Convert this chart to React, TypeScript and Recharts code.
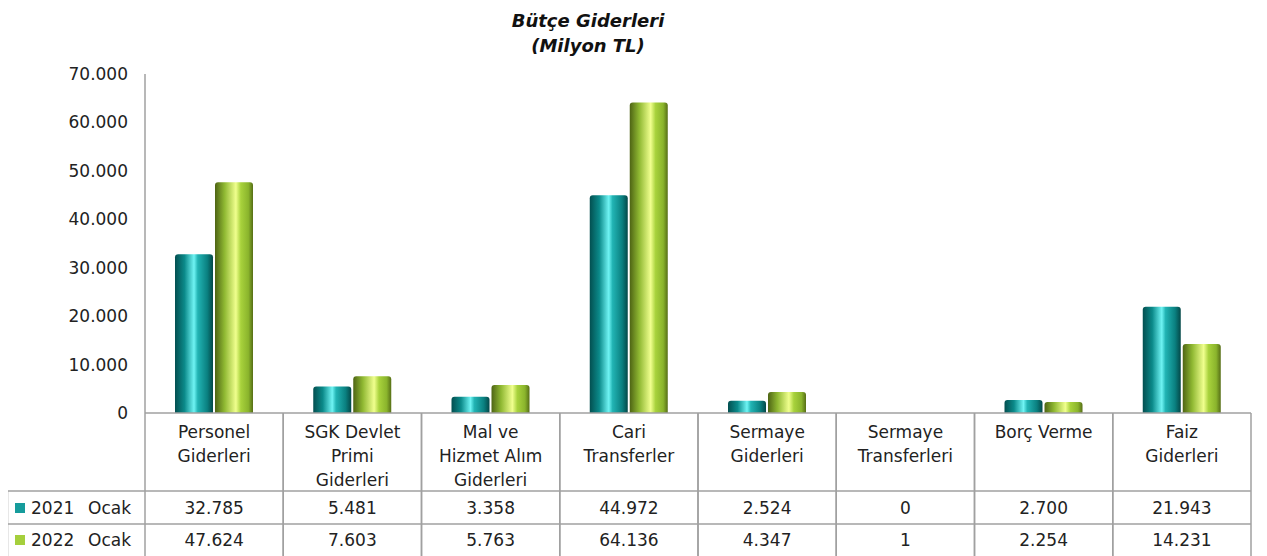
import { BarChart, Bar, XAxis, YAxis } from 'recharts';

const categories = [
  'Personel\nGiderleri',
  'SGK Devlet\nPrimi\nGiderleri',
  'Mal ve\nHizmet Alım\nGiderleri',
  'Cari\nTransferler',
  'Sermaye\nGiderleri',
  'Sermaye\nTransferleri',
  'Borç Verme',
  'Faiz\nGiderleri',
];
const ocak2021 = [32785, 5481, 3358, 44972, 2524, 0, 2700, 21943];
const ocak2022 = [47624, 7603, 5763, 64136, 4347, 1, 2254, 14231];
const yTicks = [0, 10000, 20000, 30000, 40000, 50000, 60000, 70000];
const seriesYears = ['2021', '2022'];
const seriesMonth = 'Ocak';

const W = 1267;
const H = 556;
const Y_AXIS_W = 145;
const RIGHT = 16;
const X_AXIS_H = 143;
const BW = (W - Y_AXIS_W - RIGHT) / categories.length;
const LINE = '#a0a0a0';
const TEXT = '#222';
const FONT = '"DejaVu Sans", sans-serif';
const SWATCH = ['#169c9c', '#a5cf3c'];

const fmt = (v: number) => String(v).replace(/\B(?=(\d{3})+(?!\d))/g, '.');

const data = categories.map((name, i) => ({
  name,
  y2021: ocak2021[i],
  y2022: ocak2022[i],
}));

function TableTick(props: any) {
  const { x, y, payload } = props;
  const i = categories.indexOf(payload.value);
  const left = x - BW / 2;
  const right = x + BW / 2;
  const lines = String(payload.value).split('\n');
  const r1 = y + 78;
  const r2 = y + 111;
  const bot = y + 145;
  return (
    <g fontFamily={FONT} fontSize={17} fill={TEXT}>
      <line x1={left} y1={y} x2={left} y2={bot} stroke={LINE} strokeWidth={1.5} />
      <line x1={right} y1={y} x2={right} y2={bot} stroke={LINE} strokeWidth={1.5} />
      <line x1={left} y1={r1} x2={right} y2={r1} stroke={LINE} strokeWidth={1.5} />
      <line x1={left} y1={r2} x2={right} y2={r2} stroke={LINE} strokeWidth={1.5} />
      {lines.map((t, k) => (
        <text key={k} x={x} y={y + 19 + k * 24} textAnchor="middle" dominantBaseline="central" fill={TEXT}>
          {t}
        </text>
      ))}
      <text x={x} y={y + 95} textAnchor="middle" dominantBaseline="central" fill={TEXT}>
        {fmt(ocak2021[i])}
      </text>
      <text x={x} y={y + 127} textAnchor="middle" dominantBaseline="central" fill={TEXT}>
        {fmt(ocak2022[i])}
      </text>
      {i === 0 && (
        <g>
          <line x1={-0.5} y1={r1} x2={left} y2={r1} stroke={LINE} strokeWidth={1.5} />
          <line x1={-0.5} y1={r2} x2={left} y2={r2} stroke={LINE} strokeWidth={1.5} />
          <line x1={-0.5} y1={r1} x2={-0.5} y2={bot} stroke={LINE} strokeWidth={1.5} />
          {seriesYears.map((s, k) => (
            <g key={s}>
              <rect x={7} y={y + 90 + k * 32} width={10} height={10} fill={SWATCH[k]} />
              <text x={23} y={y + 95 + k * 32} dominantBaseline="central" fill={TEXT}>
                {s}
              </text>
              <text x={80} y={y + 95 + k * 32} dominantBaseline="central" fill={TEXT}>
                {seriesMonth}
              </text>
            </g>
          ))}
        </g>
      )}
    </g>
  );
}

export default function App() {
  return (
    <div style={{ position: 'absolute', left: 8, top: 0, width: W - 8, height: H, background: '#fff' }}>
      <div
        style={{
          position: 'absolute',
          left: 480,
          width: 200,
          top: 8,
          textAlign: 'center',
          fontFamily: FONT,
          fontSize: 18,
          fontWeight: 'bold',
          fontStyle: 'italic',
          lineHeight: '25px',
          color: '#111',
          zIndex: 2,
        }}
      >
        Bütçe Giderleri
        <br />
        (Milyon TL)
      </div>
      <BarChart
        width={W - 8}
        height={H}
        data={data}
        margin={{ top: 74, right: RIGHT, left: 0, bottom: 0 }}
        barSize={38}
        barGap={2}
      >
        <defs>
          <linearGradient id="teal" x1="0" y1="0" x2="1" y2="0">
            <stop offset="0%" stopColor="#034f50" />
            <stop offset="25%" stopColor="#0b8a8a" />
            <stop offset="50%" stopColor="#6ff4f4" />
            <stop offset="60%" stopColor="#22b4b4" />
            <stop offset="85%" stopColor="#0a8080" />
            <stop offset="100%" stopColor="#044848" />
          </linearGradient>
          <linearGradient id="green" x1="0" y1="0" x2="1" y2="0">
            <stop offset="0%" stopColor="#4e6414" />
            <stop offset="25%" stopColor="#8fb832" />
            <stop offset="55%" stopColor="#f0ff8e" />
            <stop offset="68%" stopColor="#a8d23c" />
            <stop offset="88%" stopColor="#8ab42c" />
            <stop offset="100%" stopColor="#566e16" />
          </linearGradient>
        </defs>
        <XAxis
          dataKey="name"
          height={X_AXIS_H}
          interval={0}
          tickLine={false}
          tickSize={0}
          tickMargin={0}
          axisLine={{ stroke: LINE, strokeWidth: 1.5 }}
          tick={<TableTick />}
        />
        <YAxis
          width={Y_AXIS_W - 8}
          domain={[0, 70000]}
          ticks={yTicks}
          tickFormatter={fmt}
          tickLine={false}
          tickSize={6}
          tickMargin={11}
          axisLine={{ stroke: LINE, strokeWidth: 1.5 }}
          tick={{ fill: TEXT, fontSize: 17, fontFamily: FONT }}
        />
        <Bar dataKey="y2021" fill="url(#teal)" radius={[3, 3, 0, 0]} isAnimationActive={false} />
        <Bar dataKey="y2022" fill="url(#green)" radius={[3, 3, 0, 0]} isAnimationActive={false} />
      </BarChart>
    </div>
  );
}
